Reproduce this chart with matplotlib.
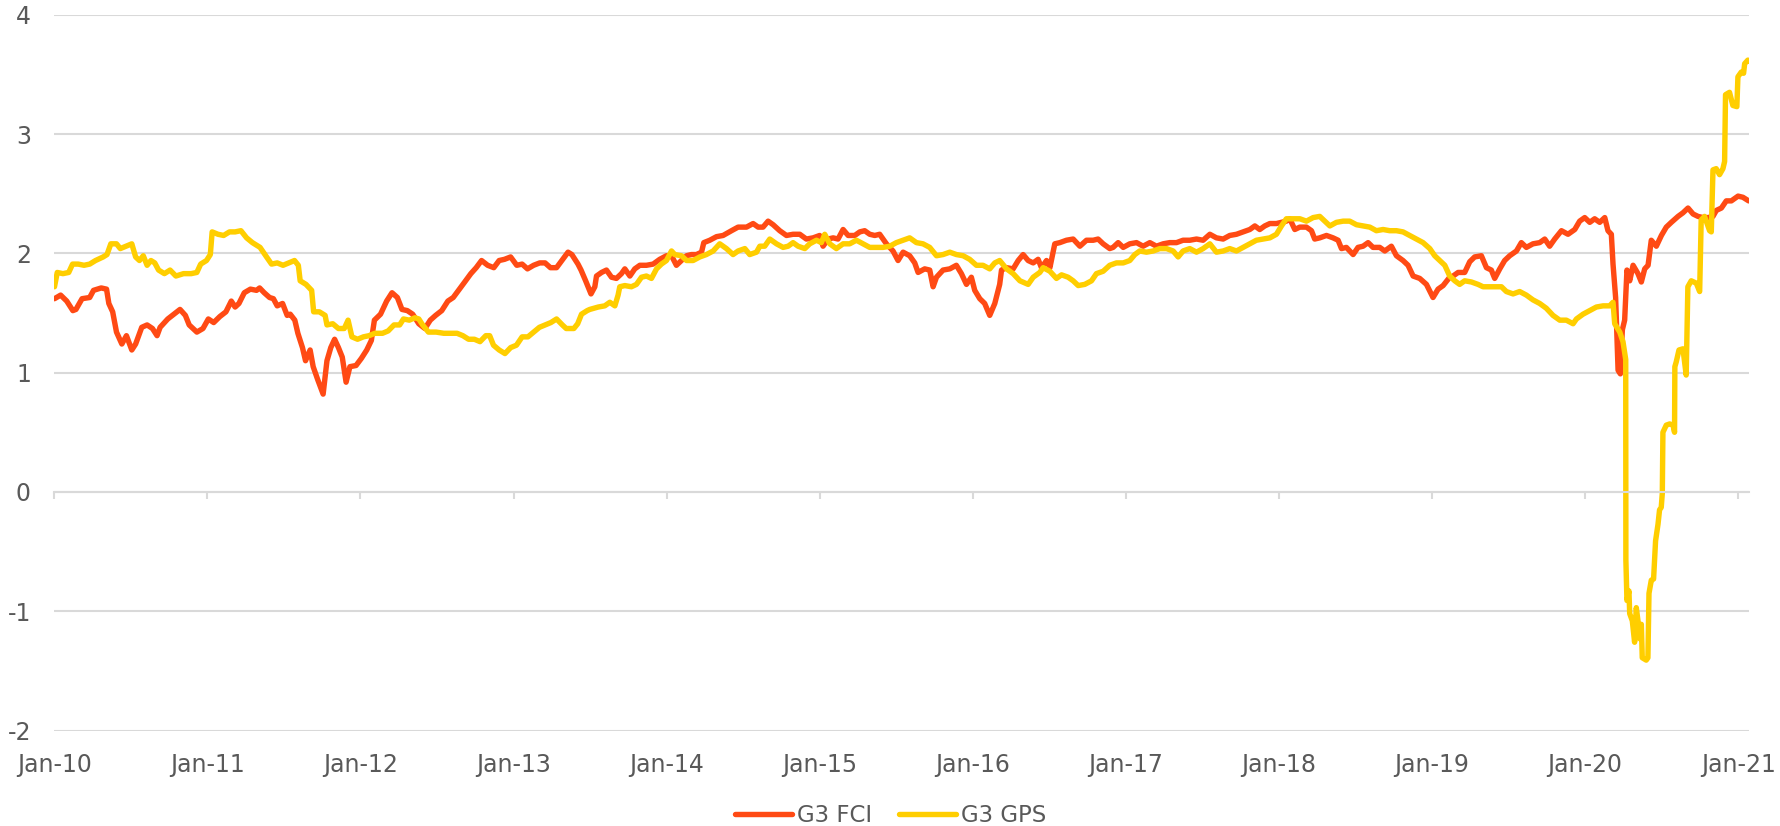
import numpy as np
import pandas as pd
import matplotlib
matplotlib.use("Agg")
from matplotlib import pyplot as plt
import matplotlib.dates as mdates

# time in years since Jan 2010
fci_t = [0.00, 0.04, 0.08, 0.12, 0.14, 0.18, 0.23, 0.255, 0.305, 0.34, 0.355, 0.38,
         0.405, 0.44, 0.47, 0.505, 0.53, 0.57, 0.605, 0.64, 0.67, 0.69, 0.74, 0.78,
         0.82, 0.855, 0.88, 0.93, 0.97, 1.005, 1.04, 1.08, 1.12, 1.155, 1.18, 1.205,
         1.24, 1.28, 1.32, 1.34, 1.37, 1.405, 1.43, 1.455, 1.49, 1.52, 1.54, 1.57,
         1.59, 1.62, 1.64, 1.67, 1.69, 1.72, 1.755, 1.78, 1.805, 1.83, 1.855, 1.88,
         1.905, 1.93, 1.97, 2.005, 2.04, 2.07, 2.09, 2.13, 2.17, 2.205, 2.24, 2.27,
         2.305, 2.34, 2.38, 2.42, 2.455, 2.49, 2.53, 2.57, 2.605, 2.64, 2.68, 2.72,
         2.755, 2.79, 2.83, 2.87, 2.905, 2.94, 2.98, 3.02, 3.055, 3.09, 3.13, 3.17,
         3.205, 3.24, 3.28, 3.32, 3.355, 3.38, 3.42, 3.44, 3.47, 3.505, 3.53,
         3.541, 3.574, 3.606, 3.639, 3.671, 3.704, 3.726, 3.759, 3.791, 3.824, 3.867,
         3.911, 3.954, 3.998, 4.031, 4.063, 4.096, 4.129, 4.161, 4.194, 4.227, 4.242,
         4.281, 4.325, 4.368, 4.423, 4.466, 4.521, 4.564, 4.597, 4.629, 4.662, 4.695,
         4.738, 4.782, 4.825, 4.869, 4.912, 4.956, 4.999, 5.021, 5.054, 5.087, 5.119,
         5.152, 5.185, 5.228, 5.261, 5.293, 5.326, 5.359, 5.391, 5.435, 5.478, 5.511,
         5.544, 5.587, 5.620, 5.642, 5.685, 5.718, 5.740, 5.762, 5.805, 5.849, 5.892,
         5.925, 5.958, 5.990, 6.012, 6.045, 6.077, 6.110, 6.143, 6.175,
         6.187, 6.220, 6.263, 6.296, 6.328, 6.361, 6.394, 6.426, 6.448, 6.481, 6.503,
         6.535, 6.568, 6.611, 6.655, 6.699, 6.742, 6.786, 6.818, 6.851, 6.894, 6.916,
         6.949, 6.982, 7.025, 7.069, 7.112, 7.156, 7.199, 7.243, 7.286, 7.330, 7.373,
         7.417, 7.461, 7.504, 7.548, 7.591, 7.635, 7.678, 7.722, 7.765, 7.809, 7.842,
         7.874, 7.907, 7.940, 7.983, 8.016, 8.048, 8.070, 8.103, 8.136, 8.179, 8.212,
         8.233, 8.266, 8.310, 8.353, 8.386, 8.408, 8.440, 8.484, 8.516, 8.549, 8.582,
         8.614, 8.658, 8.691, 8.734, 8.767, 8.810, 8.843, 8.876, 8.919, 8.963, 9.006,
         9.039, 9.072, 9.115,
         9.137, 9.170, 9.213, 9.246, 9.278, 9.322, 9.355, 9.387, 9.409, 9.442, 9.474,
         9.507, 9.551, 9.583, 9.616, 9.659, 9.703, 9.736, 9.768, 9.801, 9.845, 9.888,
         9.932, 9.964, 9.997, 10.030, 10.062, 10.095, 10.128, 10.149, 10.171, 10.182,
         10.199, 10.215, 10.230, 10.243, 10.258, 10.273, 10.291, 10.313, 10.345,
         10.367, 10.389, 10.411, 10.432, 10.465, 10.498, 10.530, 10.563, 10.607,
         10.639, 10.672, 10.705, 10.737, 10.770, 10.803, 10.835, 10.857, 10.890,
         10.922, 10.955, 10.999, 11.031, 11.068]
fci_v = [1.62, 1.65, 1.60, 1.52, 1.53, 1.62, 1.63, 1.69, 1.71, 1.70, 1.58, 1.51,
         1.34, 1.24, 1.31, 1.19, 1.24, 1.38, 1.40, 1.37, 1.31, 1.38, 1.45, 1.49,
         1.53, 1.48, 1.40, 1.34, 1.37, 1.45, 1.42, 1.47, 1.51, 1.60, 1.55, 1.58,
         1.67, 1.70, 1.69, 1.71, 1.67, 1.63, 1.62, 1.56, 1.58, 1.48, 1.49, 1.44,
         1.33, 1.21, 1.10, 1.19, 1.05, 0.94, 0.82, 1.10, 1.21, 1.28, 1.21, 1.13,
         0.92, 1.05, 1.06, 1.12, 1.19, 1.27, 1.44, 1.49, 1.60, 1.67, 1.63, 1.53,
         1.52, 1.49, 1.41, 1.37, 1.44, 1.48, 1.52, 1.60, 1.63, 1.69, 1.76, 1.83,
         1.88, 1.94, 1.90, 1.88, 1.94, 1.95, 1.97, 1.90, 1.91, 1.87, 1.90, 1.92,
         1.92, 1.88, 1.88, 1.95, 2.01, 1.99, 1.91, 1.86, 1.77, 1.66, 1.72,
         1.81, 1.84, 1.86, 1.80, 1.79, 1.83, 1.87, 1.81, 1.87, 1.90, 1.90,
         1.91, 1.95, 1.98, 1.98, 1.90, 1.94, 1.98, 1.99, 1.99, 2.01, 2.09,
         2.11, 2.14, 2.15, 2.19, 2.22, 2.22, 2.25, 2.22, 2.22, 2.27, 2.24,
         2.19, 2.15, 2.16, 2.16, 2.12, 2.13, 2.15, 2.06, 2.12, 2.13, 2.12,
         2.20, 2.15, 2.15, 2.18, 2.19, 2.16, 2.15, 2.16, 2.08, 2.02, 1.94,
         2.01, 1.98, 1.92, 1.84, 1.87, 1.86, 1.72, 1.80, 1.86, 1.87, 1.90,
         1.83, 1.74, 1.80, 1.69, 1.62, 1.58, 1.48, 1.58, 1.74,
         1.86, 1.88, 1.87, 1.94, 1.99, 1.94, 1.92, 1.95, 1.88, 1.94, 1.88,
         2.08, 2.09, 2.11, 2.12, 2.06, 2.11, 2.11, 2.12, 2.08, 2.04, 2.05,
         2.09, 2.05, 2.08, 2.09, 2.06, 2.09, 2.06, 2.08, 2.09, 2.09, 2.11,
         2.11, 2.12, 2.11, 2.16, 2.13, 2.12, 2.15, 2.16, 2.18, 2.20, 2.23,
         2.20, 2.23, 2.25, 2.25, 2.26, 2.27, 2.29, 2.20, 2.22, 2.22, 2.19,
         2.12, 2.13, 2.15, 2.13, 2.11, 2.04, 2.05, 1.99, 2.05, 2.06, 2.09,
         2.05, 2.05, 2.02, 2.06, 1.98, 1.94, 1.90, 1.81, 1.79, 1.74, 1.63,
         1.70, 1.73, 1.80,
         1.81, 1.84, 1.84, 1.93, 1.97, 1.98, 1.88, 1.86, 1.79, 1.87, 1.94,
         1.98, 2.02, 2.09, 2.05, 2.08, 2.09, 2.12, 2.06, 2.12, 2.19, 2.16,
         2.20, 2.27, 2.30, 2.26, 2.29, 2.26, 2.30, 2.19, 2.16, 1.91,
         1.63, 1.02, 0.99, 1.36, 1.44, 1.86, 1.77, 1.90, 1.83,
         1.76, 1.87, 1.90, 2.11, 2.06, 2.15, 2.22, 2.26, 2.31,
         2.34, 2.38, 2.33, 2.31, 2.30, 2.30, 2.31, 2.36, 2.38,
         2.44, 2.44, 2.48, 2.47, 2.44]

gps_t = [0.000, 0.018, 0.055, 0.093, 0.118, 0.155, 0.193, 0.230, 0.268, 0.318, 0.343,
         0.368, 0.405, 0.430, 0.468, 0.505, 0.530, 0.555, 0.580, 0.605, 0.630, 0.655,
         0.680, 0.718, 0.755, 0.793, 0.843, 0.893, 0.930, 0.955, 0.993, 1.018, 1.030,
         1.068, 1.105, 1.143, 1.180, 1.218, 1.255, 1.293, 1.343, 1.380, 1.418, 1.455,
         1.493, 1.530, 1.568, 1.593, 1.605, 1.643, 1.680, 1.693, 1.730, 1.768, 1.780,
         1.818, 1.855, 1.893, 1.918, 1.943, 1.980, 2.018, 2.055, 2.093, 2.143, 2.180,
         2.218, 2.255, 2.280, 2.318, 2.355, 2.380, 2.405, 2.443, 2.493, 2.543, 2.593,
         2.630, 2.668, 2.705, 2.743, 2.780, 2.818, 2.843, 2.868, 2.905, 2.943, 2.980,
         3.018, 3.055, 3.093, 3.130, 3.168, 3.205, 3.243, 3.280, 3.318, 3.343, 3.393,
         3.418, 3.443, 3.480,
         3.497, 3.552, 3.595, 3.628, 3.661, 3.682, 3.693, 3.726, 3.769, 3.802, 3.835,
         3.867, 3.900, 3.933, 3.965, 3.998, 4.031, 4.052, 4.096, 4.129, 4.172, 4.216,
         4.259, 4.303, 4.346, 4.390, 4.433, 4.466, 4.510, 4.542, 4.586, 4.608, 4.640,
         4.673, 4.717, 4.760, 4.793, 4.825, 4.858, 4.902, 4.934, 4.978, 5.010, 5.032,
         5.065, 5.108, 5.152, 5.195, 5.239, 5.283, 5.326, 5.370, 5.413, 5.457, 5.500,
         5.544, 5.587, 5.631, 5.674, 5.718, 5.762, 5.805, 5.849, 5.892, 5.936, 5.979,
         6.023, 6.066, 6.110, 6.143, 6.175,
         6.220, 6.263, 6.307, 6.361, 6.394, 6.437, 6.459, 6.503, 6.546, 6.579, 6.622,
         6.655, 6.688, 6.731, 6.775, 6.807, 6.851, 6.894, 6.938, 6.982, 7.025, 7.058,
         7.090, 7.134, 7.178, 7.221, 7.265, 7.308, 7.341, 7.373, 7.417, 7.461, 7.504,
         7.548, 7.591, 7.635, 7.678, 7.722, 7.765, 7.809, 7.852, 7.896, 7.940, 7.983,
         8.016, 8.048, 8.092, 8.136, 8.179, 8.223, 8.266, 8.299, 8.332, 8.375, 8.419,
         8.462,
         8.506, 8.549, 8.593, 8.636, 8.680, 8.723, 8.767, 8.810, 8.854, 8.897, 8.941,
         8.985, 9.017, 9.050, 9.083, 9.115, 9.148, 9.180, 9.213, 9.257, 9.300, 9.333,
         9.376, 9.420, 9.453, 9.485, 9.529, 9.572, 9.616, 9.659, 9.703, 9.746, 9.790,
         9.834, 9.877, 9.921, 9.943, 9.986, 10.030, 10.073, 10.117, 10.160, 10.182,
         10.193, 10.226, 10.247, 10.265,
         10.266, 10.273, 10.286, 10.291, 10.308, 10.323, 10.334, 10.345, 10.356,
         10.367, 10.373, 10.399, 10.410, 10.417, 10.432, 10.447, 10.454, 10.460,
         10.476, 10.486, 10.497, 10.504, 10.508, 10.530, 10.552, 10.574, 10.584,
         10.586, 10.595, 10.613, 10.639, 10.660, 10.671, 10.693, 10.726, 10.748,
         10.758, 10.780, 10.813, 10.824, 10.835, 10.856, 10.878, 10.900, 10.911,
         10.917, 10.943, 10.965, 10.991, 10.998, 11.020, 11.035, 11.042, 11.063, 11.074]
gps_v = [1.72, 1.84, 1.83, 1.84, 1.91, 1.91, 1.90, 1.91, 1.94, 1.97, 1.99,
         2.08, 2.08, 2.04, 2.06, 2.08, 1.97, 1.94, 1.98, 1.90, 1.94, 1.92,
         1.86, 1.83, 1.86, 1.81, 1.83, 1.83, 1.84, 1.91, 1.94, 1.99, 2.18,
         2.16, 2.15, 2.18, 2.18, 2.19, 2.13, 2.09, 2.05, 1.98, 1.91, 1.92,
         1.90, 1.92, 1.94, 1.90, 1.77, 1.74, 1.69, 1.51, 1.51, 1.48, 1.40,
         1.41, 1.37, 1.37, 1.44, 1.30, 1.28, 1.30, 1.31, 1.33, 1.33, 1.35,
         1.40, 1.40, 1.45, 1.44, 1.46, 1.45, 1.40, 1.34, 1.34, 1.33, 1.33,
         1.33, 1.31, 1.28, 1.28, 1.26, 1.31, 1.31, 1.23, 1.19, 1.16, 1.21,
         1.23, 1.30, 1.30, 1.34, 1.38, 1.40, 1.42, 1.45, 1.40, 1.37, 1.37,
         1.41, 1.49, 1.52,
         1.53, 1.55, 1.56, 1.59, 1.56, 1.65, 1.72, 1.73, 1.72, 1.74, 1.80,
         1.81, 1.79, 1.87, 1.91, 1.94, 2.02, 1.99, 1.98, 1.94, 1.94, 1.97,
         1.99, 2.02, 2.08, 2.04, 1.99, 2.02, 2.04, 1.99, 2.01, 2.06, 2.06,
         2.12, 2.08, 2.05, 2.06, 2.09, 2.06, 2.04, 2.08, 2.11, 2.09, 2.16,
         2.08, 2.04, 2.08, 2.08, 2.11, 2.08, 2.05, 2.05, 2.05, 2.06, 2.09,
         2.11, 2.13, 2.09, 2.08, 2.05, 1.98, 1.99, 2.01, 1.99, 1.98, 1.95,
         1.90, 1.90, 1.87, 1.92, 1.94,
         1.87, 1.83, 1.77, 1.74, 1.80, 1.84, 1.88, 1.85, 1.79, 1.82, 1.80,
         1.77, 1.73, 1.74, 1.77, 1.83, 1.85, 1.90, 1.92, 1.92, 1.94, 1.99,
         2.02, 2.01, 2.02, 2.04, 2.04, 2.02, 1.97, 2.02, 2.04, 2.01, 2.04,
         2.08, 2.01, 2.02, 2.04, 2.02, 2.05, 2.08, 2.11, 2.12, 2.13, 2.16,
         2.23, 2.29, 2.29, 2.29, 2.27, 2.30, 2.31, 2.27, 2.23, 2.26, 2.27,
         2.27,
         2.24, 2.23, 2.22, 2.19, 2.20, 2.19, 2.19, 2.18, 2.15, 2.12, 2.09,
         2.04, 1.98, 1.94, 1.90, 1.81, 1.77, 1.74, 1.77, 1.76, 1.74, 1.72,
         1.72, 1.72, 1.72, 1.68, 1.66, 1.68, 1.65, 1.61, 1.58, 1.54, 1.48,
         1.44, 1.44, 1.41, 1.45, 1.49, 1.52, 1.55, 1.56, 1.56, 1.59,
         1.41, 1.34, 1.26, 1.11,
         -0.57, -0.91, -0.83, -1.02, -1.08, -1.26, -0.97, -1.08, -1.23,
         -1.11, -1.39, -1.41, -1.39, -0.85, -0.74, -0.73, -0.55, -0.41,
         -0.27, -0.15, -0.13, -0.01, 0.50, 0.56, 0.57, 0.56, 0.50,
         1.05, 1.09, 1.19, 1.20, 0.98, 1.72, 1.77, 1.75, 1.68,
         2.28, 2.31, 2.19, 2.18, 2.70, 2.71, 2.66, 2.71, 2.77,
         3.33, 3.35, 3.24, 3.23, 3.48, 3.52, 3.51, 3.59, 3.62, 3.61]

series_names = ["G3 FCI", "G3 GPS"]
series_colors = ["#FF4A14", "#FFCE00"]
y_ticks = [-2, -1, 0, 1, 2, 3, 4]

start = pd.Timestamp("2010-01-01")


def to_dates(t):
    return start + pd.to_timedelta(np.array(t) * 365.25, unit="D")


plt.rcParams["font.family"] = ["DejaVu Sans"]
grid_c = "#d9d9d9"
text_c = "#595959"

fig = plt.figure(figsize=(17.81, 8.26), dpi=100)
ax = fig.add_axes([0.0306, 0.1156, 0.9514, 0.8665])

ax.plot(to_dates(fci_t), fci_v, color=series_colors[0], lw=3.9,
        solid_joinstyle="round", solid_capstyle="round", label=series_names[0])
ax.plot(to_dates(gps_t), gps_v, color=series_colors[1], lw=3.9,
        solid_joinstyle="round", solid_capstyle="round", label=series_names[1])

ax.set_ylim(-2, 4)
ax.set_yticks(y_ticks)
ax.set_yticklabels([str(v) for v in y_ticks])
ax.set_xlim(start, start + pd.Timedelta(days=11.07 * 365.25))
ax.xaxis.set_major_locator(mdates.YearLocator())
ax.xaxis.set_major_formatter(mdates.DateFormatter("%b-%y"))

ax.grid(axis="y", color=grid_c, lw=1.5)
ax.set_axisbelow(True)
for s in ["left", "right", "top"]:
    ax.spines[s].set_visible(False)
ax.spines["bottom"].set_position(("data", 0))
ax.spines["bottom"].set_color(grid_c)
ax.spines["bottom"].set_linewidth(1.5)

ax.tick_params(axis="y", length=0, pad=17, labelsize=17, labelcolor=text_c)
ax.tick_params(axis="x", direction="out", length=5, width=1.5, color=grid_c,
               pad=183, labelsize=17, labelcolor=text_c)

fig.legend(loc="center", bbox_to_anchor=(0.5, 0.013), ncol=2, frameon=False,
           fontsize=16.5, handlelength=2.5, handletextpad=0.2, columnspacing=1.2,
           labelcolor=text_c)

fig.savefig("out.png", dpi=100)
